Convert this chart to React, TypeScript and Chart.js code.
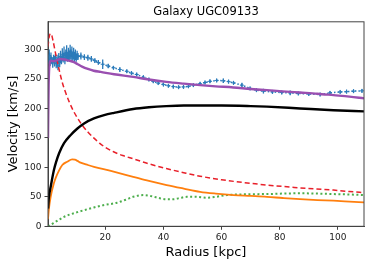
import React, { useEffect, useRef } from "react";
import { Chart, registerables } from "chart.js";

Chart.register(...registerables);

const titleText = "Galaxy UGC09133";
const xLabel = "Radius [kpc]";
const yLabel = "Velocity [km/s]";
const xTicks = [20, 40, 60, 80, 100];
const yTicks = [0, 50, 100, 150, 200, 250, 300];

// Observed rotation curve
const obsR = [0.4, 0.7, 1.0, 1.3, 1.6, 1.9, 2.2, 2.5, 2.8, 3.1, 3.4, 3.7, 4.0, 4.3, 4.6, 4.9, 5.2, 5.5, 5.8, 6.1, 6.4, 6.7, 7.0, 7.3, 7.6, 7.9, 8.2, 8.5, 8.8, 9.1, 9.4, 9.7, 10.0, 10.3, 10.6,
  11.6, 12.8, 14.0, 15.2, 16.4, 17.6, 19.1, 21, 22.8, 25, 27.4, 29, 30.8, 33.1, 35, 36.5, 38.2, 40, 41.7, 43.4, 45.2, 46.9, 48.6, 50.3, 52.6, 54.3, 56, 58.3, 60.6, 62.4, 64.1, 67, 69.8, 72, 74.4, 77.5, 80.7, 83.6, 86.4, 90, 93.9, 97.3, 100.8, 103, 105.4, 108.3];
const obsV = [283, 290, 279, 286, 281, 277, 284, 280, 286, 276, 281, 272, 285, 278, 288, 282, 291, 286, 293, 284, 290, 295, 287, 292, 289, 296, 290, 294, 288, 293, 287, 291, 286, 290, 288,
  289, 287, 286, 284, 281, 278, 275, 272, 269, 266, 263, 260, 257.6, 253, 249, 246, 243, 240.5, 238.5, 237, 236, 236.5, 237.5, 239.5, 242, 244, 246, 247.5, 247, 245.5, 243.4, 239.5, 234, 231, 229.3, 228, 227, 226.4, 225.4, 224.5, 223.6, 226.4, 228, 228.5, 229.3, 229.8];
const obsErr = [8, 10, 7, 9, 6, 8, 7, 9, 6, 8, 10, 7, 9, 8, 10, 7, 11, 8, 12, 9, 10, 12, 8, 11, 9, 12, 10, 11, 8, 10, 9, 9, 7, 8, 6,
  6, 5, 5, 5, 4, 4, 8, 4, 3, 4, 3, 3, 3, 3, 3, 3, 3, 3, 3, 3, 3, 3, 3, 3, 3, 3, 3, 3, 4, 3, 3, 4, 3, 3, 4, 3, 3, 4, 3, 3, 3, 3, 3, 3, 3, 3];

// Total model
const totalR = [0.28, 0.5, 0.8, 1.2, 2, 3, 4.5, 6, 7.5, 9, 10.5, 12, 14, 16, 18.4, 23, 29.6, 35, 41, 47, 52.6, 58, 64, 70, 75.6, 81, 87, 93, 98.5, 104, 109];
const totalV = [150, 240, 275, 281, 280, 281, 284, 283, 281, 279, 275, 271, 267, 264, 262, 258, 253.5, 249, 245, 242, 239.5, 237.5, 235.6, 233, 231, 229, 227, 225, 222.5, 220, 217];

// Halo
const haloR = [0.28, 0.6, 1.2, 2.3, 3, 4.1, 5.8, 8.1, 10.4, 12.7, 16.1, 19.6, 23, 29.6, 35, 41, 47, 52.6, 60, 70, 75.6, 87, 98.5, 109];
const haloV = [30, 50, 67, 95, 108, 124, 141, 155, 166, 174.6, 183, 188.6, 192.5, 199, 202, 204, 205, 205, 205, 204, 203, 200, 197, 195];

// Bulge
const bulgeR = [0.28, 0.7, 1.3, 2, 2.9, 4.1, 5.2, 6.4, 7.5, 9, 10.4, 12, 14, 16, 18, 20, 23, 26, 30, 35, 41, 47, 52.6, 60, 68, 75.6, 85, 92, 98.5, 104, 109];
const bulgeV = [305, 322, 327, 315, 293, 266, 244, 226, 212, 196, 184, 172, 160, 150, 141, 134, 126, 120, 114, 106, 98, 91, 85, 79, 74, 70, 66, 63.5, 61.5, 59, 57];

// Stellar disk
const diskR = [0.28, 0.6, 1.2, 2.3, 3, 4.1, 5.2, 6.9, 8.6, 9.5, 10.4, 11.5, 14, 16.1, 21.9, 29.6, 35, 41.1, 47, 52.6, 58, 64.1, 70, 75.6, 81, 87, 93, 98.5, 104, 109];
const diskV = [12, 30, 50, 73, 83, 95, 104, 109.5, 113.5, 113, 111, 108, 104, 101, 94, 84, 77, 70, 64, 58.6, 55.5, 53, 51.5, 50, 48, 46, 44.5, 43.4, 42, 40.7];

// Gas
const gasR = [0.28, 2, 5.8, 10.4, 16.1, 19, 24, 27, 29.6, 33, 36, 38.8, 41, 43.4, 46, 48, 51, 54.9, 58, 61.8, 66, 70, 75.6, 81, 87, 93, 98.5, 104, 109];
const gasV = [0, 5, 16, 24, 32, 35.5, 40, 45, 50, 53, 51, 47.5, 46, 46, 48.5, 50, 50, 48.5, 50, 53, 54, 54.5, 54.7, 55.5, 56, 55.5, 54.7, 54, 53];

const pts = (r: number[], v: number[]) => r.map((x, i) => ({ x, y: v[i] }));

const errorBarPlugin = {
  id: "errorBars",
  afterDatasetDraw(chart: any, args: any) {
    const ds: any = chart.data.datasets[args.index];
    if (!ds.errors) return;
    const ctx = chart.ctx;
    const ys = chart.scales.y;
    const area = chart.chartArea;
    ctx.save();
    ctx.beginPath();
    ctx.rect(area.left, area.top, area.right - area.left, area.bottom - area.top);
    ctx.clip();
    ctx.strokeStyle = ds.borderColor;
    ctx.lineWidth = 1.3;
    ctx.setLineDash([]);
    args.meta.data.forEach((el: any, i: number) => {
      const v = ds.data[i].y;
      const e = ds.errors[i];
      ctx.beginPath();
      ctx.moveTo(el.x, ys.getPixelForValue(v - e));
      ctx.lineTo(el.x, ys.getPixelForValue(v + e));
      ctx.stroke();
    });
    ctx.restore();
  },
};

const framePlugin = {
  id: "frame",
  afterDatasetsDraw(chart: any) {
    const { ctx, chartArea: a } = chart;
    ctx.save();
    ctx.strokeStyle = "#444";
    ctx.lineWidth = 1;
    ctx.setLineDash([]);
    ctx.strokeRect(a.left, a.top, a.right - a.left, a.bottom - a.top);
    ctx.restore();
  },
};

export default function App() {
  const ref = useRef<HTMLCanvasElement | null>(null);
  useEffect(() => {
    document.body.style.margin = "0";
    if (!ref.current) return;
    Chart.defaults.font.family = "'DejaVu Sans', sans-serif";
    const chart = new Chart(ref.current, {
      type: "line",
      data: {
        datasets: [
          { data: pts(totalR, totalV), borderColor: "#9a4fb0", borderWidth: 2.4, pointRadius: 0, cubicInterpolationMode: "monotone" },
          { data: pts(haloR, haloV), borderColor: "#000000", borderWidth: 2.4, pointRadius: 0, cubicInterpolationMode: "monotone" },
          { data: pts(bulgeR, bulgeV), borderColor: "#e8202a", borderWidth: 1.5, borderDash: [5, 3], pointRadius: 0, cubicInterpolationMode: "monotone" },
          { data: pts(diskR, diskV), borderColor: "#ff7f0e", borderWidth: 1.8, pointRadius: 0, cubicInterpolationMode: "monotone" },
          { data: pts(gasR, gasV), borderColor: "#4cae4c", borderWidth: 2, borderDash: [2, 2.5], pointRadius: 0, cubicInterpolationMode: "monotone" },
          { data: pts(obsR, obsV), errors: obsErr, borderColor: "#2b7bba", borderWidth: 1.5, borderDash: [1.5, 2], pointStyle: "cross", pointRadius: 2, pointBorderWidth: 1, pointBorderColor: "#2b7bba", tension: 0 } as any,
        ],
      },
      options: {
        animation: false,
        responsive: false,
        events: [],
        layout: { padding: { top: 0, right: 10, left: 0, bottom: 0 } },
        plugins: {
          legend: { display: false },
          tooltip: { enabled: false },
          title: {
            display: true,
            text: titleText,
            fullSize: false,
            color: "#000",
            font: { size: 11.5, weight: "normal" },
            padding: { top: 5.5, bottom: 2.5 },
          },
        },
        scales: {
          x: {
            type: "linear",
            min: 0.28,
            max: 109,
            afterBuildTicks: (s: any) => { s.ticks = xTicks.map((v) => ({ value: v })); },
            afterFit: (s: any) => { s.height = 39.7; },
            ticks: { color: "#222", font: { size: 9 }, padding: 2, maxRotation: 0 },
            grid: { drawOnChartArea: false, tickLength: 3.5, color: "#444" },
            border: { color: "#444" },
            title: { display: true, text: xLabel, color: "#000", font: { size: 13 }, padding: { top: 0, bottom: 5.5 } },
          },
          y: {
            type: "linear",
            min: 0,
            max: 347,
            afterBuildTicks: (s: any) => { s.ticks = yTicks.map((v) => ({ value: v })); },
            afterFit: (s: any) => { s.width = 48; },
            ticks: { color: "#222", font: { size: 9 }, padding: 3 },
            grid: { drawOnChartArea: false, tickLength: 3.5, color: "#444" },
            border: { color: "#444" },
            title: { display: true, text: yLabel, color: "#000", font: { size: 13 }, padding: { top: 6, bottom: 0 } },
          },
        },
      } as any,
      plugins: [errorBarPlugin, framePlugin],
    });
    return () => chart.destroy();
  }, []);
  return (
    <div style={{ width: 374, height: 266 }}>
      <canvas ref={ref} width={374} height={266} style={{ display: "block" }} />
    </div>
  );
}
